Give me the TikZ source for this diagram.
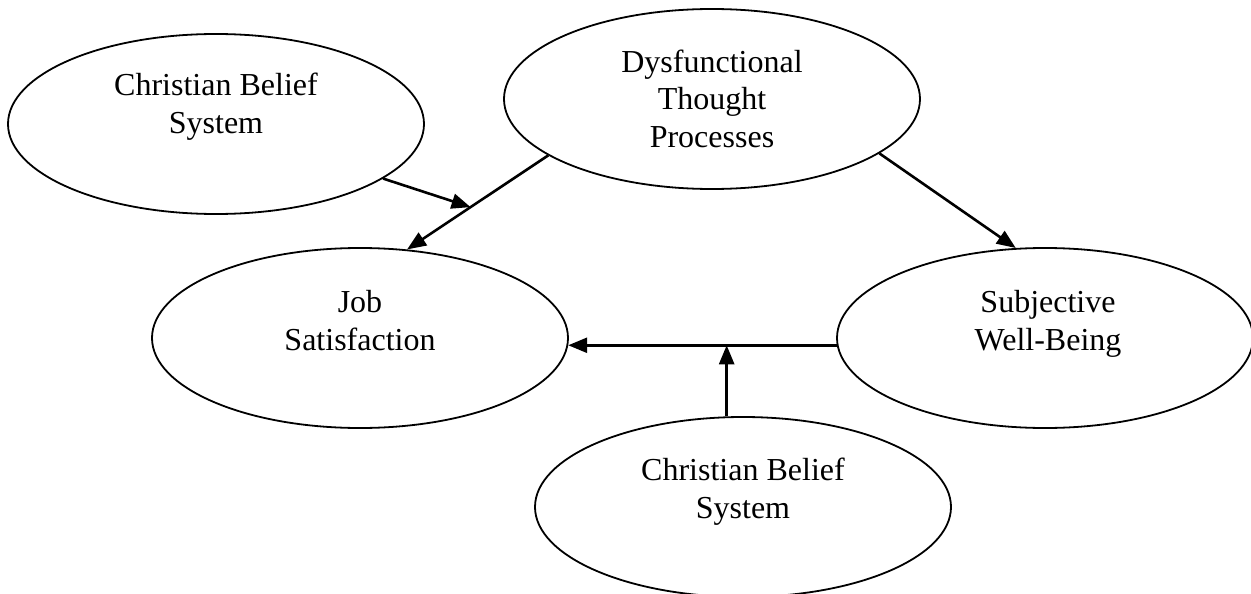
\documentclass[tikz,border=0pt]{standalone}
\usepackage{fontspec}
\setmainfont{Liberation Serif}
\usetikzlibrary{shapes.geometric,arrows.meta}

\begin{document}
\begin{tikzpicture}[x=1pt, y=-1pt,
    bubble/.style={draw, line width=1.8pt, ellipse, minimum width=416pt, minimum height=180pt, inner sep=0pt},
    words/.style={align=center, anchor=base, font=\fontsize{32}{37.5}\selectfont, inner sep=0pt},
    link/.style={line width=2.6pt, -{Triangle[length=19pt, width=15pt]}}]
    % Page size (1251 x 594)
    \useasboundingbox (0,0) rectangle (1251,594);

    % The five bubbles
    \node[bubble] (cbsA) at (216,124) {};
    \node[bubble] (dtp) at (712,99) {};
    \node[bubble] (js) at (360,338) {};
    \node[bubble] (swb) at (1045,338) {};
    \node[bubble] (cbsB) at (743,507) {};

    % Their texts sit above the middle (base = last line)
    \node[words] (cbsA-txt) at ([yshift=-9pt]cbsA.center) {Christian Belief\\System};
    \node[words] (dtp-txt) at ([yshift=-48pt]dtp.center) {Dysfunctional\\Thought\\Processes};
    \node[words] (js-txt) at ([yshift=-12pt]js.center) {Job\\Satisfaction};
    \node[words, xshift=3pt] (swb-txt) at ([yshift=-12pt]swb.center) {Subjective\\Well-Being};
    \node[words] (cbsB-txt) at ([yshift=-11pt]cbsB.center) {Christian Belief\\System};

    % Main paths
    \draw[link] (dtp.199) -- coordinate[pos=0.55] (m1) (js.62);
    \draw[link] (dtp.342) -- (swb.108);
    \draw[link] (swb.182) -- coordinate[pos=0.41] (m2) (js.358);

    % Moderating arrows onto the paths
    \draw[link] (cbsA) -- (m1);
    \draw[link] (m2 |- cbsB.north) -- (m2);

\end{tikzpicture}
\end{document}
